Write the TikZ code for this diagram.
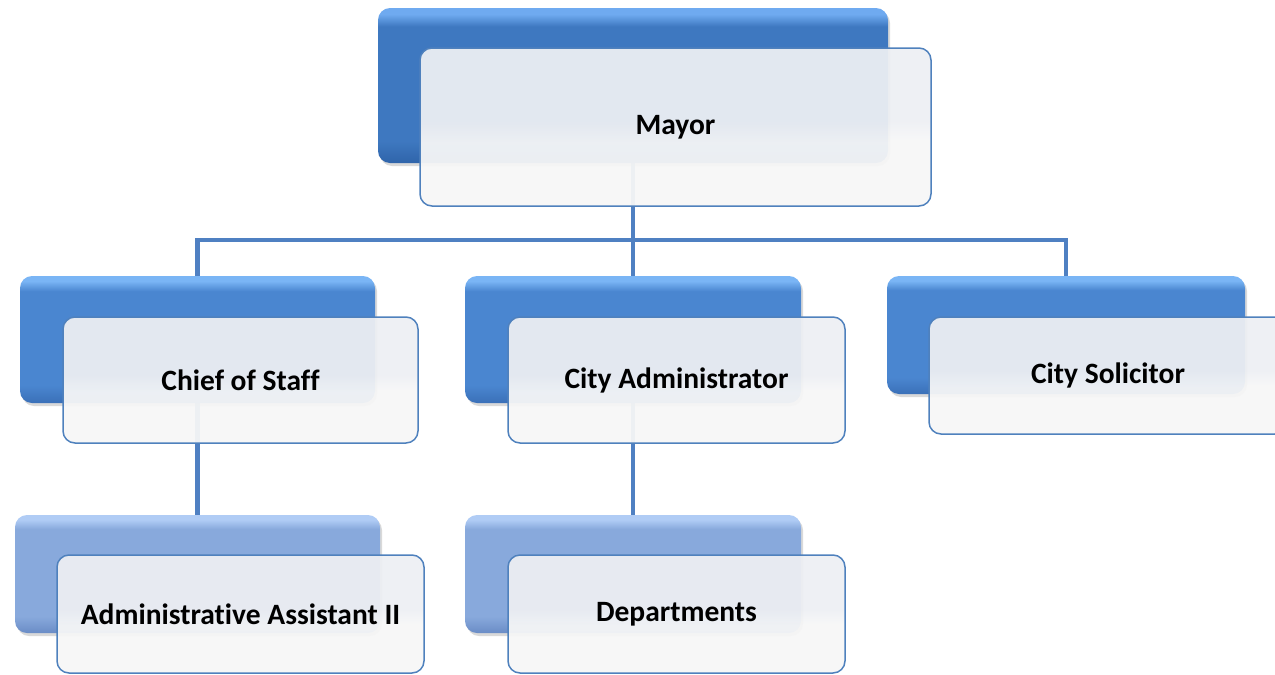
\documentclass[tikz,border=0pt]{standalone}
\usepackage{fontspec}
\setmainfont{Carlito}[Ligatures=NoCommon]
\usetikzlibrary{shadows}
\definecolor{connc}{HTML}{4F80C2}
\definecolor{wline}{HTML}{4F81BD}
\definecolor{wtop}{HTML}{EDEFF3}
\definecolor{wbot}{HTML}{F7F7F7}
\definecolor{mtop}{HTML}{6FAAF0}
\definecolor{mmid}{HTML}{3E78C0}
\definecolor{mbot}{HTML}{2F64AA}
\definecolor{btop}{HTML}{7AB5F5}
\definecolor{bmid}{HTML}{4A86D0}
\definecolor{bbot}{HTML}{3A70B8}
\definecolor{ltop}{HTML}{B0CCF5}
\definecolor{lmid}{HTML}{88A9DC}
\definecolor{lbot}{HTML}{6A8CC6}
\pgfdeclareverticalshading{mayorsh}{100bp}{color(0bp)=(mbot); color(25bp)=(mbot); color(32bp)=(mmid); color(69bp)=(mmid); color(73bp)=(mtop); color(75bp)=(mtop); color(100bp)=(mtop)}
\pgfdeclareverticalshading{midsh}{100bp}{color(0bp)=(bbot); color(25bp)=(bbot); color(32bp)=(bmid); color(69bp)=(bmid); color(73bp)=(btop); color(75bp)=(btop); color(100bp)=(btop)}
\pgfdeclareverticalshading{lowsh}{100bp}{color(0bp)=(lbot); color(25bp)=(lbot); color(32bp)=(lmid); color(69bp)=(lmid); color(73bp)=(ltop); color(75bp)=(ltop); color(100bp)=(ltop)}
\pgfdeclareverticalshading{whitesh}{100bp}{color(0bp)=(wbot); color(25bp)=(wbot); color(45bp)=(wbot); color(52bp)=(wtop); color(75bp)=(wtop); color(100bp)=(wtop)}
\pgfdeclarelayer{bg}
\pgfsetlayers{bg,main}
\begin{document}
\begin{tikzpicture}[x=1pt,y=-1pt,
  bluebox/.style={rounded corners=12pt, draw=none, inner sep=0pt,
    drop shadow={opacity=0.3, shadow xshift=2pt, shadow yshift=-3pt}},
  mayorfill/.style={shading=mayorsh},
  midfill/.style={shading=midsh},
  lowfill/.style={shading=lowsh},
  whitebox/.style={rounded corners=12pt, draw=wline, line width=1.5pt,
    shading=whitesh, fill opacity=0.94, text opacity=1,
    inner sep=0pt, font=\bfseries\fontsize{29.5}{34}\selectfont},
  conn/.style={draw=connc, line width=4.5pt}
]
\useasboundingbox (0,0) rectangle (1275,675);

% blue back boxes
\node[bluebox, mayorfill, minimum width=510pt, minimum height=155pt] (mayorB) at (633,85.5) {};
\node[bluebox, midfill, minimum width=355pt, minimum height=127pt] (cosB) at (197.5,339.5) {};
\node[bluebox, midfill, minimum width=336pt, minimum height=127pt] (cadB) at (633,339.5) {};
\node[bluebox, midfill, minimum width=358pt, minimum height=118pt] (csB) at (1066,335) {};
\node[bluebox, lowfill, minimum width=365pt, minimum height=118pt] (aaB) at (197.5,574) {};
\node[bluebox, lowfill, minimum width=336pt, minimum height=118pt] (depB) at (633,574) {};

\coordinate (bus) at (0,240);

\begin{pgfonlayer}{bg}
\draw[conn] (mayorB.center) -- (mayorB.center |- bus) -| (cosB.north);
\draw[conn] (mayorB.center |- bus) -- (cadB.north);
\draw[conn] (mayorB.center |- bus) -| (csB.north);
\draw[conn] (cosB.south) -- (aaB.north);
\draw[conn] (cadB.south) -- (depB.north);
\end{pgfonlayer}

% front boxes
\node[whitebox, minimum width=511pt, minimum height=158pt] (mayor) at (675.5,127) {Mayor};
\node[whitebox, minimum width=355pt, minimum height=126pt] (cos) at (240.5,380) {Chief of Staff};
\node[whitebox, minimum width=337pt, minimum height=126pt] (cad) at (676.5,380) {City Administrator};
\node[whitebox, minimum width=358pt, minimum height=117pt] (cs) at (1108,375.5) {City Solicitor};
\node[whitebox, minimum width=367pt, minimum height=118pt] (aa) at (240.5,614) {Administrative Assistant II};
\node[whitebox, minimum width=337pt, minimum height=118pt] (dep) at (676.5,614) {Departments};
\end{tikzpicture}
\end{document}
